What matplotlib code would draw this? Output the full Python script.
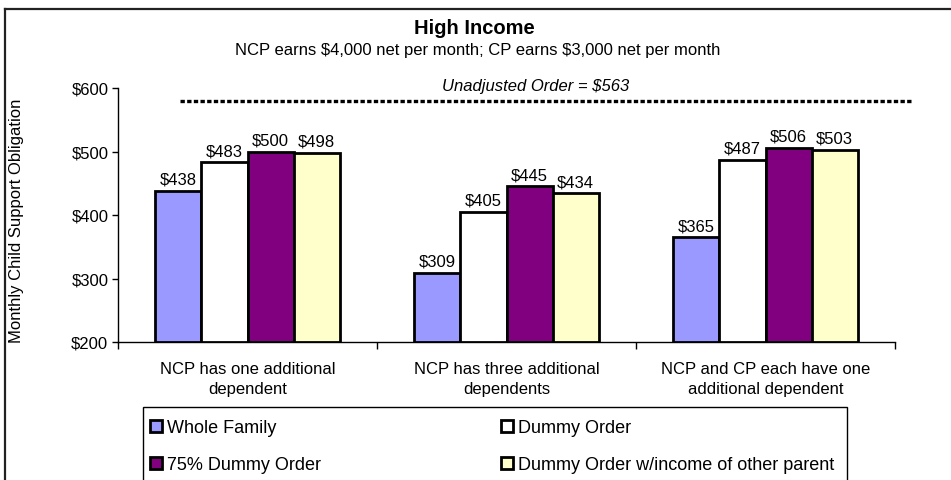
import matplotlib
matplotlib.use("Agg")
import matplotlib.pyplot as plt
import numpy as np
from matplotlib.lines import Line2D
from matplotlib.patches import Rectangle, Patch

plt.rcParams['font.family'] = ['Liberation Sans', 'DejaVu Sans']

categories = ["NCP has one additional\ndependent", "NCP has three additional\ndependents",
              "NCP and CP each have one\nadditional dependent"]
series_names = ["Whole Family", "Dummy Order", "75% Dummy Order", "Dummy Order w/income of other parent"]
whole_family = [438, 309, 365]
dummy_order = [483, 405, 487]
dummy_75 = [500, 445, 506]
dummy_other = [498, 434, 503]
colors = ["#9999FF", "#FFFFFF", "#800080", "#FFFFCC"]
yticks = [200, 300, 400, 500, 600]
unadjusted = 563

W, H = 951, 481
fig = plt.figure(figsize=(W/100, H/100), dpi=100)
ax = fig.add_axes([118/W, 1-343/H, (895-118)/W, (343-89)/H])

FS = 12
series = [whole_family, dummy_order, dummy_75, dummy_other]
x = np.arange(len(categories))
bw = 0.178
for i, (vals, c) in enumerate(zip(series, colors)):
    pos = x + (i - 1.5) * bw
    ax.bar(pos, np.array(vals) - 200, bw, bottom=200, color=c, edgecolor='black', linewidth=2, zorder=3)
    for p, v in zip(pos, vals):
        ax.annotate(f"${v}", (p, v), xytext=(0, 5), textcoords='offset points',
                    ha='center', va='baseline', fontsize=FS)

ax.set_xlim(-0.5, 2.5)
ax.set_ylim(200, 600)
ax.set_yticks(yticks)
ax.set_yticklabels([f"${v}" for v in yticks], fontsize=FS)
ax.set_xticks(x)
ax.set_xticklabels(categories, fontsize=FS, linespacing=1.4)
ax.tick_params(axis='x', length=0, pad=14)
ax.set_xticks([-0.5, 0.5, 1.5, 2.5], minor=True)
ax.tick_params(axis='x', which='minor', length=5, width=1)
ax.tick_params(axis='y', length=4, width=1, pad=3)
for s in ['top', 'right']:
    ax.spines[s].set_visible(False)
for s in ['left', 'bottom']:
    ax.spines[s].set_linewidth(1)

# Dotted unadjusted-order line (annotation above the plot)
fig.add_artist(Line2D([180/W, 913/W], [1-101.5/H, 1-101.5/H], color='black', lw=2.4,
                      linestyle=(0, (1.3, 0.7)), transform=fig.transFigure))
fig.text(536/W, 1-87/H, f"Unadjusted Order = ${unadjusted}", ha='center', va='center',
         fontsize=FS, style='italic')

fig.text(474/W, 1-29/H, "High Income", ha='center', va='center', fontsize=14.5, fontweight='bold')
fig.text(478/W, 1-51/H, "NCP earns \\$4,000 net per month; CP earns \\$3,000 net per month",
         ha='center', va='center', fontsize=FS)
fig.text(17/W, 1-221/H, "Monthly Child Support Obligation", rotation=90, ha='center',
         va='center', fontsize=FS)

# Outer border
fig.add_artist(Line2D([5/W, 1.0], [1-10/H, 1-10/H], color='#222222', lw=1.6, transform=fig.transFigure))
fig.add_artist(Line2D([5/W, 5/W], [1-10/H, 0], color='#222222', lw=1.6, transform=fig.transFigure))

# Legend box
fig.add_artist(Rectangle((143/W, -0.05), (847-143)/W, (1-408/H) + 0.05, transform=fig.transFigure,
                         fill=False, edgecolor='black', lw=1))
handles = [Patch(facecolor=c, edgecolor='black', linewidth=2) for c in colors]
order = [0, 2, 1, 3]
leg = fig.legend([handles[i] for i in order], [series_names[i] for i in order], ncol=2,
                 loc='upper left', bbox_to_anchor=(150/W, 1-420/H), frameon=False,
                 fontsize=13, handlelength=0.67, handleheight=0.67, handletextpad=0.25,
                 labelspacing=1.13, columnspacing=10.0, borderaxespad=0, borderpad=0)

fig.savefig("out.png", dpi=100)
